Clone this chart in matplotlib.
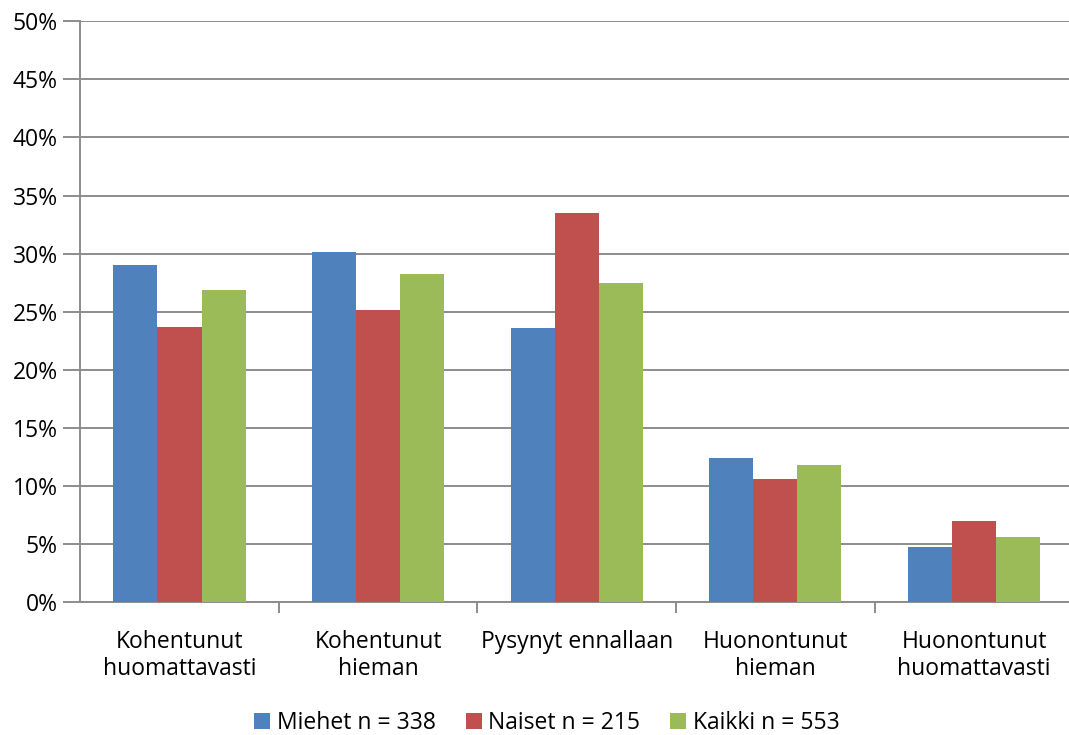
"""Grouped bar chart: change in situation by gender."""
import numpy as np
import matplotlib
matplotlib.use("Agg")
import matplotlib.pyplot as plt
from matplotlib.ticker import MultipleLocator, FuncFormatter

categories = [
    "Kohentunut\nhuomattavasti",
    "Kohentunut\nhieman",
    "Pysynyt ennallaan",
    "Huonontunut\nhieman",
    "Huonontunut\nhuomattavasti",
]
series_names = ["Miehet n = 338", "Naiset n = 215", "Kaikki n = 553"]
miehet = [29.0, 30.1, 23.6, 12.4, 4.7]
naiset = [23.7, 25.1, 33.5, 10.6, 7.0]
kaikki = [26.9, 28.2, 27.5, 11.8, 5.6]
colors = ["#4F81BD", "#C0504D", "#9BBB59"]

plt.rcParams["font.family"] = ["Open Sans", "DejaVu Sans"]

fig = plt.figure(figsize=(10.69, 7.35), dpi=100)
ax = fig.add_axes([0.075, 0.181, 0.929, 0.790])

x = np.arange(len(categories))
width = 0.222
for i, (vals, name, col) in enumerate(zip([miehet, naiset, kaikki], series_names, colors)):
    ax.bar(x + (i - 1) * width, vals, width, color=col, label=name, zorder=3)

ax.set_xlim(-0.5, len(categories) - 0.5)
ax.set_ylim(0, 50)
ax.yaxis.set_major_locator(MultipleLocator(5))
ax.yaxis.set_major_formatter(FuncFormatter(lambda v, _: f"{v:.0f}%"))
ax.grid(axis="y", color="#8C8C8C", linewidth=1.4, zorder=0)

for side in ["top", "right"]:
    ax.spines[side].set_visible(False)
for side in ["left", "bottom"]:
    ax.spines[side].set_color("#8C8C8C")
    ax.spines[side].set_linewidth(1.4)

ax.tick_params(axis="y", length=12, color="#8C8C8C", width=1.4, labelsize=16.5, pad=4)
# category labels centred, ticks at group boundaries
ax.set_xticks(x)
ax.set_xticklabels(categories, fontsize=16.5, linespacing=1.2)
ax.tick_params(axis="x", which="major", length=0, pad=20)
ax.set_xticks(np.arange(0.5, len(categories) - 0.5), minor=True)
ax.tick_params(axis="x", which="minor", length=8, color="#8C8C8C", width=1.4)

ax.legend(loc="lower center", bbox_to_anchor=(0.47, -0.265), ncol=3, frameon=False,
          fontsize=16.5, handlelength=0.7, handleheight=0.7, handletextpad=0.3,
          columnspacing=1.3)

fig.savefig("out.png", dpi=100)
